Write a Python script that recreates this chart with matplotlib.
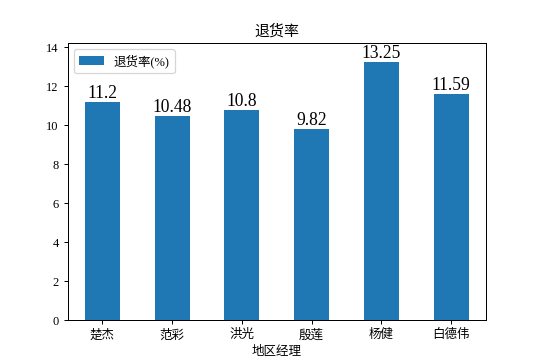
import numpy as np
import matplotlib
matplotlib.use('Agg')
import matplotlib.pyplot as plt

plt.rcParams['font.family'] = ['Liberation Serif', 'Noto Sans CJK SC']
plt.rcParams['axes.unicode_minus'] = False

# data
managers = ['楚杰', '范彩', '洪光', '殷莲', '杨健', '白德伟']
rates = [11.2, 10.48, 10.8, 9.82, 13.25, 11.59]

fig, ax = plt.subplots(figsize=(6, 4), dpi=90)
x = np.arange(len(managers))
ax.bar(x, rates, width=0.5, color='#1f77b4', label='退货率(%)')

# value labels on top of the bars
for xi, v in zip(x, rates):
    ax.text(xi, v, str(v), ha='center', va='bottom', fontsize=14)

ax.set_xticks(x)
ax.set_xticklabels(managers)
ax.set_xlim(-0.5, len(managers) - 0.5)
ax.set_ylim(0, 14.2)
ax.set_xlabel('地区经理')
ax.set_title('退货率')
ax.legend(loc='upper left')

fig.savefig('out.png', dpi=90)
